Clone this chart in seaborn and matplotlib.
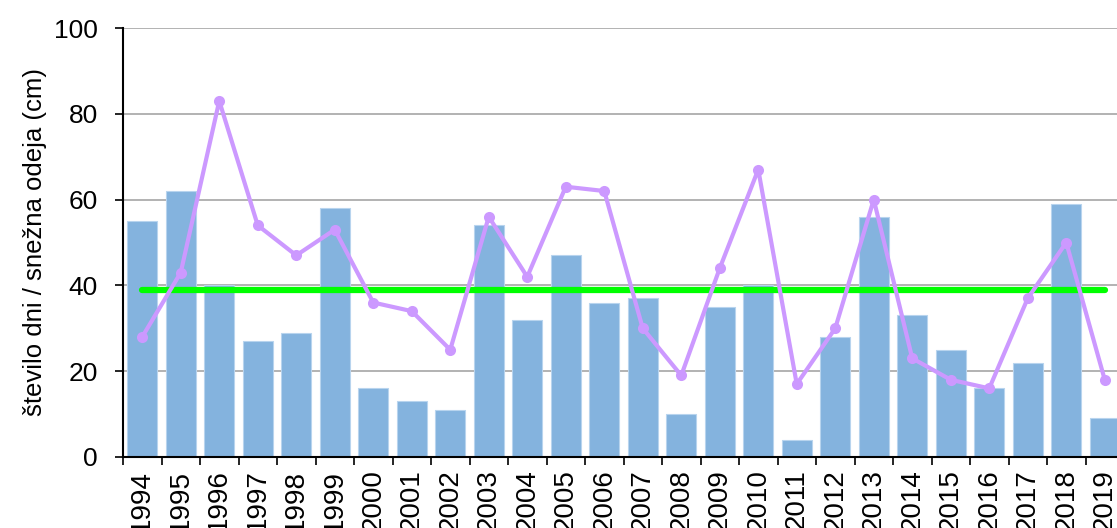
import numpy as np
import pandas as pd
import matplotlib
matplotlib.use("Agg")
import matplotlib.pyplot as plt
import seaborn as sns
from matplotlib.ticker import FixedLocator

years = [str(y) for y in range(1994, 2020)]
days = [55, 62, 40, 27, 29, 58, 16, 13, 11, 54, 32, 47, 36, 37, 10, 35, 40, 4, 28, 56, 33, 25, 16, 22, 59, 9]
snow = [28, 43, 83, 54, 47, 53, 36, 34, 25, 56, 42, 63, 62, 30, 19, 44, 67, 17, 30, 60, 23, 18, 16, 37, 50, 18]
average = 39
ylabel = "število dni / snežna odeja (cm)"

sns.set_theme(style="white")
plt.rcParams['font.family'] = ['Liberation Sans', 'DejaVu Sans']
plt.rcParams['text.color'] = 'black'
plt.rcParams['axes.labelcolor'] = 'black'
plt.rcParams['xtick.color'] = 'black'
plt.rcParams['ytick.color'] = 'black'

fig = plt.figure(figsize=(11.17, 5.28), dpi=100)
ax = fig.add_axes([123/1117, 71/528, 1001/1117, 429/528])

df = pd.DataFrame({"year": years, "days": days, "snow": snow, "avg": [average]*len(years)})

sns.barplot(data=df, x="year", y="days", color="#84B3DE", saturation=1, width=0.78,
            edgecolor="#B8D4EE", linewidth=0.8, ax=ax, zorder=2)
sns.lineplot(data=df, x="year", y="avg", color="#00FF00", linewidth=4.5, ax=ax, zorder=3)
sns.lineplot(data=df, x="year", y="snow", color="#CC99FF", linewidth=3, marker="o",
             markersize=8, markeredgewidth=0, ax=ax, zorder=4)

ax.set_xlim(-0.5, len(years) - 0.5)
ax.set_ylim(0, 100)
ax.set_yticks([0, 20, 40, 60, 80, 100])
ax.yaxis.grid(True, color="#A6A6A6", linewidth=1.2, zorder=0)
ax.set_axisbelow(True)
for s in ["top", "right"]:
    ax.spines[s].set_visible(False)
for s in ["left", "bottom"]:
    ax.spines[s].set_color("black")
    ax.spines[s].set_linewidth(1.5)

ax.set_xticks(range(len(years)))
ax.set_xticklabels(years, rotation=90, fontsize=20)
ax.tick_params(axis="x", which="major", length=0, pad=9)
ax.xaxis.set_minor_locator(FixedLocator(np.arange(-0.5, len(years), 1.0)))
ax.tick_params(axis="x", which="minor", length=6, width=1.2, color="black", bottom=True)
ax.tick_params(axis="y", length=6, width=1.2, color="black", labelsize=19, left=True, pad=12)
ax.set_xlabel("")
ax.set_ylabel(ylabel, fontsize=18.5, labelpad=5)

fig.savefig("out.png", dpi=100)
